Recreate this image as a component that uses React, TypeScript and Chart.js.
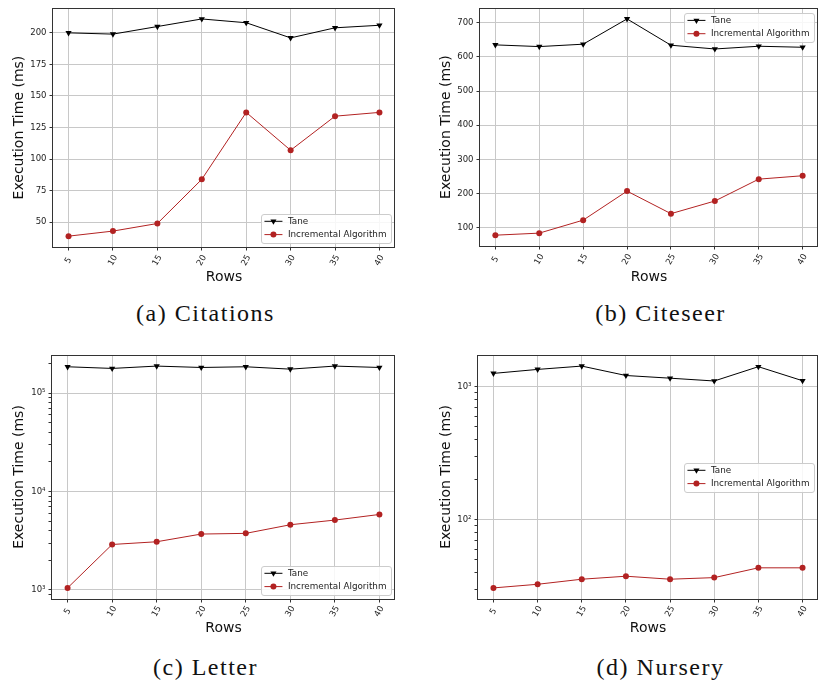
import React, { useEffect, useRef } from 'react';
import { Chart, registerables } from 'chart.js';
Chart.register(...registerables);

// ---------------- data ----------------
const rows = [5, 10, 15, 20, 25, 30, 35, 40];
const seriesNames = ['Tane', 'Incremental Algorithm'];

const citationsTane = [200, 199, 205, 211, 208, 196, 204, 206];
const citationsIncremental = [39, 43, 49, 84, 137, 107, 134, 137];

const citeseerTane = [635, 630, 637, 711, 634, 623, 631, 628];
const citeseerIncremental = [78, 84, 122, 207, 141, 178, 242, 252];

const letterTane = [185000, 178000, 188000, 182000, 185000, 175000, 188000, 182000];
const letterIncremental = [1050, 2900, 3090, 3700, 3760, 4600, 5130, 5850];

const nurseryTane = [1260, 1350, 1430, 1215, 1160, 1105, 1415, 1110];
const nurseryIncremental = [30.8, 32.8, 35.8, 37.7, 35.8, 36.8, 43.6, 43.6];

const citationsYTicks = [50, 75, 100, 125, 150, 175, 200];
const citeseerYTicks = [100, 200, 300, 400, 500, 600, 700];

const captions = ['(a) Citations', '(b) Citeseer', '(c) Letter', '(d) Nursery'];

// ---------------- styling ----------------
const TANE_COLOR = '#000000';
const INCR_COLOR = '#b22222';
const GRID = '#c8c8c8';
const TICK_COLOR = '#222222';
const FONT = '"DejaVu Sans", sans-serif';
const SUP: Record<string, string> = { '0': '⁰', '1': '¹', '2': '²', '3': '³', '4': '⁴', '5': '⁵', '6': '⁶' };

type PanelCfg = {
  left: number; top: number; W: number; H: number;
  area: { left: number; top: number; right: number; bottom: number };
  tane: number[]; incr: number[]; log: boolean; yTicks?: number[];
  legend: 'lower' | 'upper' | 'center';
  yTitleCenter: number; xTitleCenter: number; xLabelOffset: number;
};

const panels: PanelCfg[] = [
  { left: 0, top: 0, W: 411, H: 300, area: { left: 53, top: 1, right: 395, bottom: 247 },
    tane: citationsTane, incr: citationsIncremental, log: false, yTicks: citationsYTicks,
    legend: 'lower', yTitleCenter: 19.7, xTitleCenter: 277.5, xLabelOffset: 13.5 },
  { left: 411, top: 0, W: 411, H: 300, area: { left: 69, top: 1, right: 410, bottom: 246 },
    tane: citeseerTane, incr: citeseerIncremental, log: false, yTicks: citeseerYTicks,
    legend: 'upper', yTitleCenter: 35.5, xTitleCenter: 277.5, xLabelOffset: 13.5 },
  { left: 0, top: 340, W: 411, H: 300, area: { left: 52, top: 15, right: 395, bottom: 259 },
    tane: letterTane, incr: letterIncremental, log: true,
    legend: 'lower', yTitleCenter: 19.8, xTitleCenter: 288.5, xLabelOffset: 12.5 },
  { left: 411, top: 340, W: 411, H: 300, area: { left: 67, top: 15, right: 410, bottom: 259 },
    tane: nurseryTane, incr: nurseryIncremental, log: true,
    legend: 'center', yTitleCenter: 35.2, xTitleCenter: 288.5, xLabelOffset: 12.5 },
];

const isPow10 = (v: number) => {
  const l = Math.log10(v);
  return Math.abs(l - Math.round(l)) < 1e-9;
};

function drawMarker(ctx: CanvasRenderingContext2D, kind: 'tri' | 'circ', x: number, y: number, color: string) {
  ctx.fillStyle = color;
  ctx.beginPath();
  if (kind === 'circ') {
    ctx.arc(x, y, 3, 0, Math.PI * 2);
  } else {
    const r = 3.5;
    ctx.moveTo(x, y + r);
    ctx.lineTo(x - r * Math.sin(Math.PI / 3), y - r / 2);
    ctx.lineTo(x + r * Math.sin(Math.PI / 3), y - r / 2);
    ctx.closePath();
  }
  ctx.fill();
}

function Panel({ cfg }: { cfg: PanelCfg }) {
  const ref = useRef<HTMLCanvasElement>(null);
  useEffect(() => {
    const canvas = ref.current!;
    const all = [...cfg.tane, ...cfg.incr];
    let yMin: number, yMax: number;
    if (cfg.log) {
      const lo = Math.log10(Math.min(...all));
      const hi = Math.log10(Math.max(...all));
      const m = (hi - lo) * 0.05;
      yMin = Math.pow(10, lo - m);
      yMax = Math.pow(10, hi + m);
    } else {
      const lo = Math.min(...all);
      const hi = Math.max(...all);
      const m = (hi - lo) * 0.05;
      yMin = lo - m;
      yMax = hi + m;
    }
    const xm = (rows[rows.length - 1] - rows[0]) * 0.05;

    const overlay = {
      id: 'overlay',
      afterDraw(chart: any) {
        const ctx: CanvasRenderingContext2D = chart.ctx;
        const a = chart.chartArea;
        const xs = chart.scales.x;
        ctx.save();
        // frame
        ctx.strokeStyle = '#333333';
        ctx.lineWidth = 1;
        const l = Math.round(a.left) + 0.5, t = Math.round(a.top) - 0.5;
        const r = Math.round(a.right) - 0.5, b = Math.round(a.bottom) + 0.5;
        ctx.strokeRect(l - 1, t + 1, r - l + 1, b - t - 1);
        // x tick labels rotated, centred on tick
        ctx.font = `8.5px ${FONT}`;
        ctx.fillStyle = TICK_COLOR;
        ctx.textAlign = 'center';
        ctx.textBaseline = 'middle';
        rows.forEach((v) => {
          const px = xs.getPixelForValue(v);
          ctx.save();
          ctx.translate(px, a.bottom + cfg.xLabelOffset);
          ctx.rotate(-60 * Math.PI / 180);
          ctx.fillText(String(v), 0, 0);
          ctx.restore();
        });
        // legend
        ctx.font = `8.8px ${FONT}`;
        const tw = Math.max(...seriesNames.map((n) => ctx.measureText(n).width));
        const padL = 3.5, handle = 18, gap = 5.5, padR = 4;
        const w = padL + handle + gap + tw + padR;
        const h = 29;
        const bx = a.right - 4.5 - w;
        const by = cfg.legend === 'lower' ? a.bottom - 4.5 - h
          : cfg.legend === 'upper' ? a.top + 4.5 : (a.top + a.bottom) / 2 - h / 2;
        ctx.fillStyle = 'rgba(255,255,255,0.85)';
        ctx.strokeStyle = '#cccccc';
        ctx.lineWidth = 1;
        ctx.beginPath();
        (ctx as any).roundRect(Math.round(bx) + 0.5, Math.round(by) + 0.5, Math.round(w), Math.round(h), 2.5);
        ctx.fill();
        ctx.stroke();
        const colors = [TANE_COLOR, INCR_COLOR];
        const kinds: ('tri' | 'circ')[] = ['tri', 'circ'];
        seriesNames.forEach((name, i) => {
          const cy = by + 7.8 + i * 13.3;
          const x0 = bx + padL;
          ctx.strokeStyle = colors[i];
          ctx.lineWidth = 1;
          ctx.beginPath();
          ctx.moveTo(x0, cy);
          ctx.lineTo(x0 + handle, cy);
          ctx.stroke();
          drawMarker(ctx, kinds[i], x0 + handle / 2, cy, colors[i]);
          ctx.fillStyle = '#222222';
          ctx.textAlign = 'left';
          ctx.textBaseline = 'middle';
          ctx.fillText(name, x0 + handle + gap, cy);
        });
        ctx.restore();
      },
    };

    const chart = new Chart(canvas, {
      type: 'line',
      data: {
        datasets: [
          {
            label: seriesNames[0],
            data: rows.map((x, i) => ({ x, y: cfg.tane[i] })),
            borderColor: TANE_COLOR,
            backgroundColor: TANE_COLOR,
            borderWidth: 1,
            pointStyle: 'triangle',
            pointRotation: 180,
            pointRadius: 3.6,
            pointBorderWidth: 0,
            pointBackgroundColor: TANE_COLOR,
            tension: 0,
          },
          {
            label: seriesNames[1],
            data: rows.map((x, i) => ({ x, y: cfg.incr[i] })),
            borderColor: INCR_COLOR,
            backgroundColor: INCR_COLOR,
            borderWidth: 1,
            pointStyle: 'circle',
            pointRadius: 3,
            pointBorderWidth: 0,
            pointBackgroundColor: INCR_COLOR,
            tension: 0,
          },
        ],
      },
      options: {
        responsive: false,
        animation: false,
        devicePixelRatio: 1,
        layout: {
          padding: { left: 0, top: cfg.area.top, right: cfg.W - cfg.area.right, bottom: 0 },
        },
        plugins: { legend: { display: false }, tooltip: { enabled: false } },
        scales: {
          x: {
            type: 'linear',
            min: rows[0] - xm,
            max: rows[rows.length - 1] + xm,
            afterBuildTicks: (scale: any) => { scale.ticks = rows.map((v) => ({ value: v })); },
            afterFit: (scale: any) => { scale.height = cfg.H - cfg.area.bottom; },
            ticks: { display: false },
            grid: { color: GRID, lineWidth: 1, tickLength: 3.5, tickColor: '#333333', tickWidth: 1 },
            border: { display: false },
            title: {
              display: true, text: 'Rows', color: '#111111',
              font: { family: FONT, size: 14 },
              padding: { top: 0, bottom: cfg.H - cfg.xTitleCenter - 8.4 },
            },
          },
          y: {
            type: cfg.log ? 'logarithmic' : 'linear',
            min: yMin,
            max: yMax,
            afterBuildTicks: (scale: any) => {
              if (cfg.log) {
                const t: any[] = [];
                const e0 = Math.floor(Math.log10(yMin));
                const e1 = Math.ceil(Math.log10(yMax));
                for (let e = e0; e <= e1; e++) {
                  for (let k = 1; k < 10; k++) {
                    const v = k * Math.pow(10, e);
                    if (v >= yMin && v <= yMax) t.push({ value: v, major: k === 1 });
                  }
                }
                scale.ticks = t;
              } else {
                scale.ticks = (cfg.yTicks || []).map((v) => ({ value: v }));
              }
            },
            afterFit: (scale: any) => { scale.width = cfg.area.left; },
            ticks: {
              autoSkip: false,
              padding: 3,
              color: TICK_COLOR,
              font: { family: FONT, size: 8.5 },
              callback: (value: any) => {
                const v = Number(value);
                if (cfg.log) {
                  if (!isPow10(v)) return '';
                  const e = String(Math.round(Math.log10(v)));
                  return '10' + e.split('').map((c) => SUP[c] || c).join('');
                }
                return String(v);
              },
            },
            grid: {
              color: (ctx: any) => {
                const v = ctx.tick ? ctx.tick.value : 0;
                if (cfg.log && !isPow10(v)) return 'rgba(0,0,0,0)';
                return GRID;
              },
              lineWidth: 1,
              tickLength: 3.5,
              tickColor: '#333333',
              tickWidth: 1,
            },
            border: { display: false },
            title: {
              display: true, text: 'Execution Time (ms)', color: '#111111',
              font: { family: FONT, size: 14 },
              padding: { top: cfg.yTitleCenter - 8.4, bottom: 0 },
            },
          },
        },
      } as any,
      plugins: [overlay],
    });
    return () => chart.destroy();
  }, []);
  return (
    <canvas
      ref={ref}
      width={cfg.W}
      height={cfg.H}
      style={{ position: 'absolute', left: cfg.left, top: cfg.top, width: cfg.W, height: cfg.H }}
    />
  );
}

const captionPos = [
  { cx: 204, top: 301 },
  { cx: 659, top: 301 },
  { cx: 204, top: 655 },
  { cx: 659, top: 655 },
];

export default function App() {
  return (
    <div style={{ position: 'absolute', left: 0, top: 0, width: 822, height: 687, background: '#ffffff', overflow: 'hidden' }}>
      {panels.map((p, i) => <Panel key={i} cfg={p} />)}
      {captions.map((c, i) => (
        <div
          key={c}
          style={{
            position: 'absolute',
            left: captionPos[i].cx - 150,
            top: captionPos[i].top,
            width: 300,
            textAlign: 'center',
            fontFamily: '"Liberation Serif", serif',
            fontSize: 24,
            lineHeight: '24px',
            letterSpacing: '1.5px',
            paddingLeft: 1.5,
            color: '#111111',
            whiteSpace: 'nowrap',
          }}
        >
          {c}
        </div>
      ))}
    </div>
  );
}
